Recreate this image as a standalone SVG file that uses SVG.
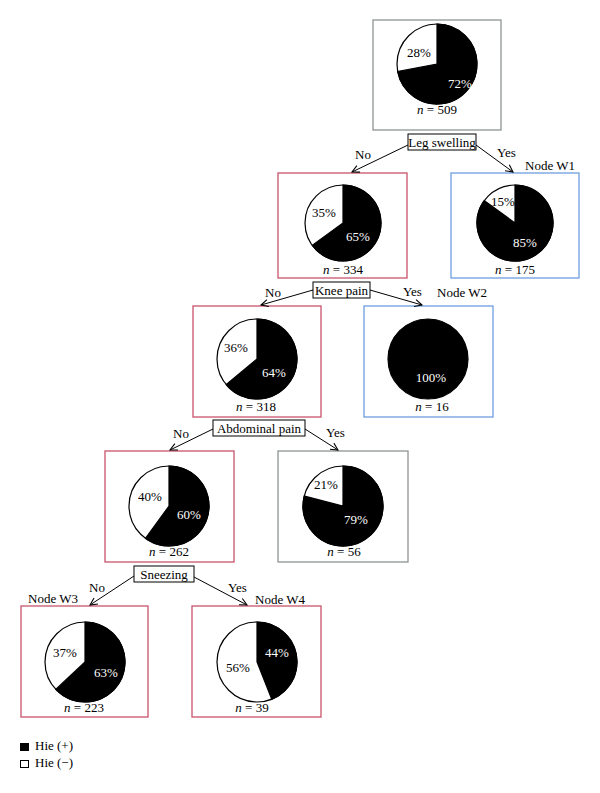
<svg xmlns="http://www.w3.org/2000/svg" width="600" height="793" viewBox="0 0 600 793">
<defs>
<marker id="arr" viewBox="0 0 10 10" refX="9" refY="5" markerWidth="9" markerHeight="9" markerUnits="userSpaceOnUse" orient="auto">
<polyline points="1,1 9,5 1,9" fill="none" stroke="#000" stroke-width="1.2"/>
</marker>
</defs>
<style>
text{font-family:"Liberation Serif","Times New Roman",serif;font-size:13px;fill:#000}
.c{text-anchor:middle}
.w{fill:#fff}
.red{fill:#fff;stroke:#c9536c;stroke-width:1.3}
.blue{fill:#fff;stroke:#6e9de0;stroke-width:1.3}
.gray{fill:#fff;stroke:#8f9494;stroke-width:1.3}
.lbl{fill:#fff;stroke:#000;stroke-width:1}
.pw{fill:#fff;stroke:#000;stroke-width:1.2}
.pb{fill:#000;stroke:#000;stroke-width:1.2}
.conn line{stroke:#000;stroke-width:1;marker-end:url(#arr)}
i{font-style:italic}
</style>
<rect width="600" height="793" fill="#fff"/>

<g id="node-root">
<rect class="gray" x="373" y="20" width="128" height="110"/>
<circle class="pw" cx="437" cy="64" r="40"/>
<path class="pb" d="M437,64 L437,24 A40,40 0 1 1 397.71,71.50 Z"/>
<text class="c" x="419" y="57">28%</text>
<text class="c w" x="460" y="88">72%</text>
<text class="c" x="437" y="114"><tspan font-style="italic">n</tspan> = 509</text>
</g>

<g id="split-leg">
<rect class="lbl" x="408" y="134" width="68" height="16"/>
<text class="c" x="442" y="147" font-size="12.5">Leg swelling</text>
</g>

<g id="node-l2">
<rect class="red" x="278" y="173" width="129" height="105"/>
<circle class="pw" cx="343" cy="223" r="38"/>
<path class="pb" d="M343,223 L343,185 A38,38 0 1 1 312.26,245.34 Z"/>
<text class="c" x="324" y="217">35%</text>
<text class="c w" x="358" y="241">65%</text>
<text class="c" x="343" y="274"><tspan font-style="italic">n</tspan> = 334</text>
</g>

<g id="node-w1">
<rect class="blue" x="451" y="173" width="128" height="105"/>
<circle class="pw" cx="515" cy="223" r="38"/>
<path class="pb" d="M515,223 L515,185 A38,38 0 1 1 484.26,200.66 Z"/>
<text class="c" x="503" y="206">15%</text>
<text class="c w" x="525" y="247">85%</text>
<text class="c" x="515" y="274"><tspan font-style="italic">n</tspan> = 175</text>
<text x="525" y="170">Node W1</text>
</g>

<g id="split-knee">
<rect class="lbl" x="313" y="282" width="57" height="16"/>
<text class="c" x="341.5" y="294.5" font-size="12.5">Knee pain</text>
</g>

<g id="node-l3">
<rect class="red" x="193" y="306" width="128" height="111"/>
<circle class="pw" cx="257" cy="359" r="40"/>
<path class="pb" d="M257,359 L257,319 A40,40 0 1 1 226.18,384.50 Z"/>
<text class="c" x="236" y="352">36%</text>
<text class="c w" x="274" y="377">64%</text>
<text class="c" x="256" y="411"><tspan font-style="italic">n</tspan> = 318</text>
</g>

<g id="node-w2">
<rect class="blue" x="364" y="306" width="129" height="111"/>
<circle class="pb" cx="428" cy="359" r="40"/>
<text class="c w" x="431" y="382">100%</text>
<text class="c" x="432" y="411"><tspan font-style="italic">n</tspan> = 16</text>
<text x="437" y="297">Node W2</text>
</g>

<g id="split-abd">
<rect class="lbl" x="213" y="420" width="92" height="16"/>
<text class="c" x="259" y="432.5" font-size="12.5">Abdominal pain</text>
</g>

<g id="node-l4">
<rect class="red" x="105" y="451" width="129" height="111"/>
<circle class="pw" cx="169" cy="506" r="40"/>
<path class="pb" d="M169,506 L169,466 A40,40 0 1 1 145.49,538.36 Z"/>
<text class="c" x="150" y="501">40%</text>
<text class="c w" x="189" y="519">60%</text>
<text class="c" x="169" y="556"><tspan font-style="italic">n</tspan> = 262</text>
</g>

<g id="node-g2">
<rect class="gray" x="278" y="451" width="130" height="111"/>
<circle class="pw" cx="343" cy="506" r="40"/>
<path class="pb" d="M343,506 L343,466 A40,40 0 1 1 304.26,496.05 Z"/>
<text class="c" x="326" y="489">21%</text>
<text class="c w" x="356" y="524">79%</text>
<text class="c" x="344" y="556"><tspan font-style="italic">n</tspan> = 56</text>
</g>

<g id="split-sneeze">
<rect class="lbl" x="134" y="566" width="60" height="16"/>
<text class="c" x="164" y="578.5" font-size="12.5">Sneezing</text>
</g>

<g id="node-w3">
<rect class="red" x="21" y="606" width="127" height="111"/>
<circle class="pw" cx="85" cy="662" r="40"/>
<path class="pb" d="M85,662 L85,622 A40,40 0 1 1 55.84,689.38 Z"/>
<text class="c" x="65" y="657">37%</text>
<text class="c w" x="106" y="677">63%</text>
<text class="c" x="84" y="712"><tspan font-style="italic">n</tspan> = 223</text>
<text x="28" y="603">Node W3</text>
</g>

<g id="node-w4">
<rect class="red" x="192" y="606" width="129" height="111"/>
<circle class="pw" cx="257" cy="662" r="40"/>
<path class="pb" d="M257,662 L257,622 A40,40 0 0 1 271.72,699.19 Z"/>
<text class="c w" x="277" y="657">44%</text>
<text class="c" x="238" y="672">56%</text>
<text class="c" x="252" y="712"><tspan font-style="italic">n</tspan> = 39</text>
<text x="255" y="604">Node W4</text>
</g>

<g id="connectors" class="conn">
<line x1="408" y1="145" x2="352" y2="172"/>
<line x1="476" y1="145" x2="513" y2="172"/>
<line x1="313" y1="290" x2="261" y2="305"/>
<line x1="370" y1="290" x2="422" y2="305"/>
<line x1="213" y1="429" x2="170" y2="450"/>
<line x1="305" y1="429" x2="338" y2="450"/>
<line x1="134" y1="576" x2="90" y2="605"/>
<line x1="194" y1="577" x2="247" y2="605"/>
</g>

<g id="edge-labels">
<text x="355" y="159">No</text>
<text x="497" y="157">Yes</text>
<text x="265" y="297">No</text>
<text x="403" y="296">Yes</text>
<text x="173" y="438">No</text>
<text x="326" y="437">Yes</text>
<text x="89" y="592">No</text>
<text x="228" y="592">Yes</text>
</g>

<g id="legend">
<rect x="20.5" y="743.5" width="8" height="7" fill="#000" stroke="#000" stroke-width="1"/>
<text x="35" y="750">Hie (+)</text>
<rect x="20.5" y="760.5" width="8" height="7" fill="#fff" stroke="#000" stroke-width="1"/>
<text x="35" y="767">Hie (−)</text>
</g>
</svg>
